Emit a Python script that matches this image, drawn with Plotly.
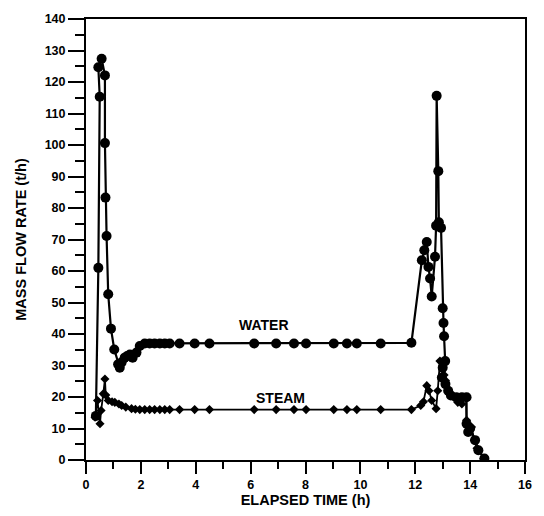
import plotly.graph_objects as go

water_x = [0.36, 0.45, 0.50, 0.45, 0.57, 0.69, 0.69, 0.71, 0.75, 0.81, 0.91, 1.03, 1.17, 1.23,
           1.30, 1.41, 1.50, 1.60, 1.70, 1.84, 1.96, 2.14, 2.32, 2.50, 2.69, 2.87, 3.05, 3.41,
           3.96, 4.50, 6.13, 6.93, 7.58, 8.02, 9.03, 9.51, 9.87, 10.74, 11.86, 12.24, 12.33,
           12.42, 12.48, 12.54, 12.60, 12.72, 12.76, 12.78, 12.84, 12.86, 12.94, 13.00, 13.03,
           13.05, 13.09, 13.00, 12.97, 13.10, 13.20, 13.30, 13.50, 13.70, 13.87, 13.87, 13.93,
           14.00, 14.18, 14.30, 14.52]
water_y = [14.0, 61.0, 115.3, 124.7, 127.4, 122.1, 100.6, 83.3, 71.1, 52.6, 41.7, 35.1, 30.4, 29.3,
           31.0, 32.5, 33.0, 33.5, 32.5, 34.1, 36.2, 37.0, 37.0, 37.0, 37.0, 37.0, 37.0, 37.0,
           37.0, 37.0, 37.0, 37.0, 37.0, 37.0, 37.0, 37.0, 37.0, 37.0, 37.2, 63.4, 66.6,
           69.2, 61.3, 57.6, 51.9, 64.5, 74.4, 115.6, 91.7, 75.5, 73.7, 48.2, 43.5,
           39.3, 31.4, 29.3, 26.2, 24.1, 22.0, 20.5, 19.9, 19.9, 19.9, 11.5, 8.9,
           10.0, 6.3, 3.1, 0.5]

steam_x = [0.33, 0.42, 0.51, 0.55, 0.63, 0.69, 0.72, 0.81, 0.95, 1.05, 1.20, 1.30, 1.45, 1.66,
           1.80, 1.96, 2.14, 2.32, 2.50, 2.69, 2.87, 3.05, 3.41, 3.96, 4.50, 6.13, 6.93, 7.58,
           8.02, 9.03, 9.51, 9.87, 10.74, 11.86, 12.20, 12.30, 12.42, 12.50, 12.60, 12.76,
           12.82, 12.90, 13.00, 13.05, 13.10, 13.20, 13.40, 13.55, 13.70, 13.85, 13.87, 13.98,
           14.05, 14.15, 14.25, 14.50]
steam_y = [13.6, 18.9, 11.5, 15.7, 21.0, 25.7, 20.6, 18.9, 18.5, 18.3, 17.8, 17.3, 16.8, 16.3,
           16.1, 16.0, 16.0, 16.0, 16.0, 16.0, 16.0, 16.0, 16.0, 16.0, 16.0, 16.0, 16.0, 16.0,
           16.0, 16.0, 16.0, 16.0, 16.0, 16.0, 17.3, 18.5, 23.6, 22.0, 18.9, 16.3,
           22.0, 31.4, 29.9, 27.0, 25.2, 22.0, 19.9, 18.3, 17.8, 19.9, 12.6, 9.4,
           10.5, 6.3, 3.7, 0.5]

x_ticks = list(range(0, 17, 2))
y_ticks = list(range(0, 141, 10))

font_fam = "Liberation Sans, Arial, sans-serif"

fig = go.Figure()
fig.add_trace(go.Scatter(x=water_x, y=water_y, mode="lines+markers", name="WATER",
                         line=dict(color="black", width=2.2),
                         marker=dict(symbol="circle", size=10, color="black")))
fig.add_trace(go.Scatter(x=steam_x, y=steam_y, mode="lines+markers", name="STEAM",
                         line=dict(color="black", width=1.8),
                         marker=dict(symbol="diamond", size=7, color="black")))

fig.add_annotation(x=6.5, y=43, text="<b>WATER</b>", showarrow=False,
                   font=dict(family=font_fam, size=14, color="black"))
fig.add_annotation(x=7.1, y=19.8, text="<b>STEAM</b>", showarrow=False,
                   font=dict(family=font_fam, size=14, color="black"))

fig.update_layout(
    width=544, height=516,
    margin=dict(l=86, r=16, t=15, b=56),
    paper_bgcolor="white", plot_bgcolor="white",
    showlegend=False,
    font=dict(family=font_fam, size=12, color="black"),
)
fig.update_xaxes(
    range=[0, 16], tickvals=x_ticks, ticktext=[str(v) for v in x_ticks],
    showline=True, linecolor="black", linewidth=2, mirror=True,
    ticks="outside", ticklen=12, tickwidth=2, tickcolor="black",
    minor=dict(dtick=1, ticks="outside", ticklen=7, tickwidth=2, tickcolor="black"),
    showgrid=False, zeroline=False,
    tickfont=dict(family=font_fam, size=12.5, color="black", weight="bold"),
    title=dict(text="<b>ELAPSED TIME (h)</b>", standoff=0,
               font=dict(family=font_fam, size=14.5, color="black")),
)
fig.update_yaxes(
    range=[0, 140], tickvals=y_ticks, ticktext=[str(v) for v in y_ticks],
    showline=True, linecolor="black", linewidth=2, mirror=True,
    ticks="outside", ticklen=16, tickwidth=2, tickcolor="black",
    minor=dict(dtick=5, ticks="outside", ticklen=9, tickwidth=2, tickcolor="black"),
    showgrid=False, zeroline=False,
    tickfont=dict(family=font_fam, size=12.5, color="black", weight="bold"),
    title=dict(text="<b>MASS FLOW RATE (t/h)</b>", standoff=15,
               font=dict(family=font_fam, size=14.5, color="black")),
)

fig.write_html("out.html")
